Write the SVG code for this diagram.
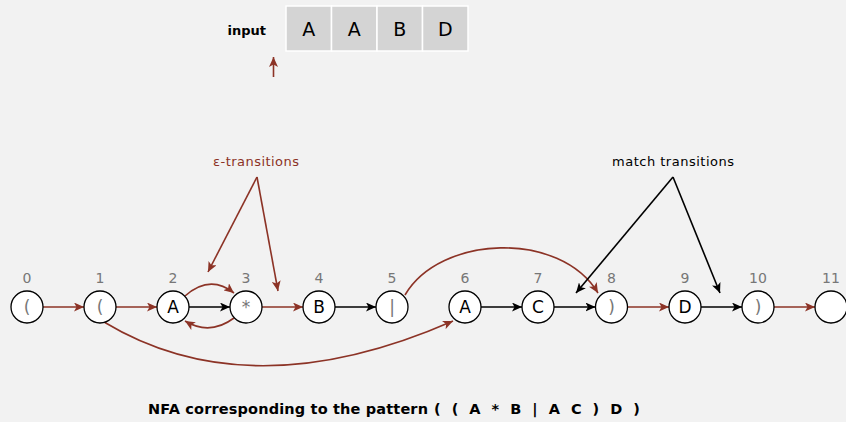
<svg xmlns="http://www.w3.org/2000/svg" width="846" height="422" viewBox="0 0 846 422">
<style>
text{font-family:"DejaVu Sans","Liberation Sans",sans-serif}
.node circle{fill:#fff;stroke:#000;stroke-width:1.3}
.lbl{font-size:17px;text-anchor:middle;fill:#000}
.meta{font-size:17px;text-anchor:middle;fill:#777}
.idx{font-size:14px;text-anchor:middle;fill:#777}
.red{stroke:#8c3326;stroke-width:1.6;fill:none}
.blk{stroke:#000;stroke-width:1.6;fill:none}
.box{fill:#d4d4d4;stroke:#fff;stroke-width:1.5}
.in{font-size:19px;text-anchor:middle;fill:#000}
</style>
<defs>
<marker id="ar" markerUnits="userSpaceOnUse" markerWidth="11" markerHeight="9" refX="10" refY="4.5" orient="auto"><path d="M0,0 L10,4.5 L0,9 L2.5,4.5 z" fill="#8c3326"/></marker>
<marker id="ab" markerUnits="userSpaceOnUse" markerWidth="11" markerHeight="9" refX="10" refY="4.5" orient="auto"><path d="M0,0 L10,4.5 L0,9 L2.5,4.5 z" fill="#000"/></marker>
</defs>
<rect width="846" height="422" fill="#f2f2f2"/>
<g id="input">
<text x="266" y="35" font-size="13" font-weight="bold" text-anchor="end">input</text>
<rect class="box" x="286" y="6" width="45.5" height="45"/>
<rect class="box" x="331.5" y="6" width="45.5" height="45"/>
<rect class="box" x="377" y="6" width="45.5" height="45"/>
<rect class="box" x="422.5" y="6" width="45.5" height="45"/>
<text class="in" x="308.7" y="36">A</text>
<text class="in" x="354.2" y="36">A</text>
<text class="in" x="399.7" y="36">B</text>
<text class="in" x="445.2" y="36">D</text>
<line class="red" x1="273.5" y1="77" x2="273.5" y2="57" marker-end="url(#ar)"/>
</g>
<g id="connectors">
<line class="red" x1="43" y1="307" x2="84" y2="307" marker-end="url(#ar)"/>
<line class="red" x1="116" y1="307" x2="157" y2="307" marker-end="url(#ar)"/>
<line class="blk" x1="189" y1="307" x2="230" y2="307" marker-end="url(#ab)"/>
<line class="red" x1="262" y1="307" x2="303" y2="307" marker-end="url(#ar)"/>
<line class="blk" x1="335" y1="307" x2="376" y2="307" marker-end="url(#ab)"/>
<line class="blk" x1="481" y1="307" x2="522" y2="307" marker-end="url(#ab)"/>
<line class="blk" x1="554" y1="307" x2="595.5" y2="307" marker-end="url(#ab)"/>
<line class="red" x1="627.5" y1="307" x2="669" y2="307" marker-end="url(#ar)"/>
<line class="blk" x1="701" y1="307" x2="742" y2="307" marker-end="url(#ab)"/>
<line class="red" x1="774" y1="307" x2="815" y2="307" marker-end="url(#ar)"/>
<path class="red" d="M185,296 Q210,274 234,293" marker-end="url(#ar)"/>
<path class="red" d="M234,318 Q210,336 185,321" marker-end="url(#ar)"/>
<path class="red" d="M104,322 Q250,410 453,321" marker-end="url(#ar)"/>
<path class="red" d="M405,295 C440,235 560,230 598,293" marker-end="url(#ar)"/>
</g>
<g id="annotations">
<text x="256" y="166" font-size="13" fill="#8c3326" text-anchor="middle" textLength="86">ε-transitions</text>
<line class="red" x1="257" y1="177" x2="208" y2="272" marker-end="url(#ar)"/>
<line class="red" x1="257" y1="177" x2="278" y2="291" marker-end="url(#ar)"/>
<text x="673" y="166" font-size="13" fill="#000" text-anchor="middle" textLength="122">match transitions</text>
<line class="blk" x1="673" y1="177" x2="576" y2="293" marker-end="url(#ab)"/>
<line class="blk" x1="673" y1="177" x2="720" y2="293" marker-end="url(#ab)"/>
</g>
<g id="n0" class="node"><text class="idx" x="27" y="283">0</text><circle cx="27" cy="307" r="16"/><text class="meta" x="27" y="313">(</text></g>
<g id="n1" class="node"><text class="idx" x="100" y="283">1</text><circle cx="100" cy="307" r="16"/><text class="meta" x="100" y="313">(</text></g>
<g id="n2" class="node"><text class="idx" x="173" y="283">2</text><circle cx="173" cy="307" r="16"/><text class="lbl" x="173" y="313">A</text></g>
<g id="n3" class="node"><text class="idx" x="246" y="283">3</text><circle cx="246" cy="307" r="16"/><text class="meta" x="246" y="313" font-size="15">*</text></g>
<g id="n4" class="node"><text class="idx" x="319" y="283">4</text><circle cx="319" cy="307" r="16"/><text class="lbl" x="319" y="313">B</text></g>
<g id="n5" class="node"><text class="idx" x="392" y="283">5</text><circle cx="392" cy="307" r="16"/><text class="meta" x="392" y="313">|</text></g>
<g id="n6" class="node"><text class="idx" x="465" y="283">6</text><circle cx="465" cy="307" r="16"/><text class="lbl" x="465" y="313">A</text></g>
<g id="n7" class="node"><text class="idx" x="538" y="283">7</text><circle cx="538" cy="307" r="16"/><text class="lbl" x="538" y="313">C</text></g>
<g id="n8" class="node"><text class="idx" x="611.5" y="283">8</text><circle cx="611.5" cy="307" r="16"/><text class="meta" x="611.5" y="313">)</text></g>
<g id="n9" class="node"><text class="idx" x="685" y="283">9</text><circle cx="685" cy="307" r="16"/><text class="lbl" x="685" y="313">D</text></g>
<g id="n10" class="node"><text class="idx" x="758" y="283">10</text><circle cx="758" cy="307" r="16"/><text class="meta" x="758" y="313">)</text></g>
<g id="n11" class="node"><text class="idx" x="831" y="283">11</text><circle cx="831" cy="307" r="16"/></g>
<g id="caption">
<text x="148" y="414" font-size="14.5" font-weight="bold" textLength="280">NFA corresponding to the pattern</text>
<text x="434" y="414" font-size="14.5" font-weight="bold" font-family="'Liberation Mono','DejaVu Sans Mono',monospace" textLength="206" xml:space="preserve">( ( A * B | A C ) D )</text>
</g>
</svg>
